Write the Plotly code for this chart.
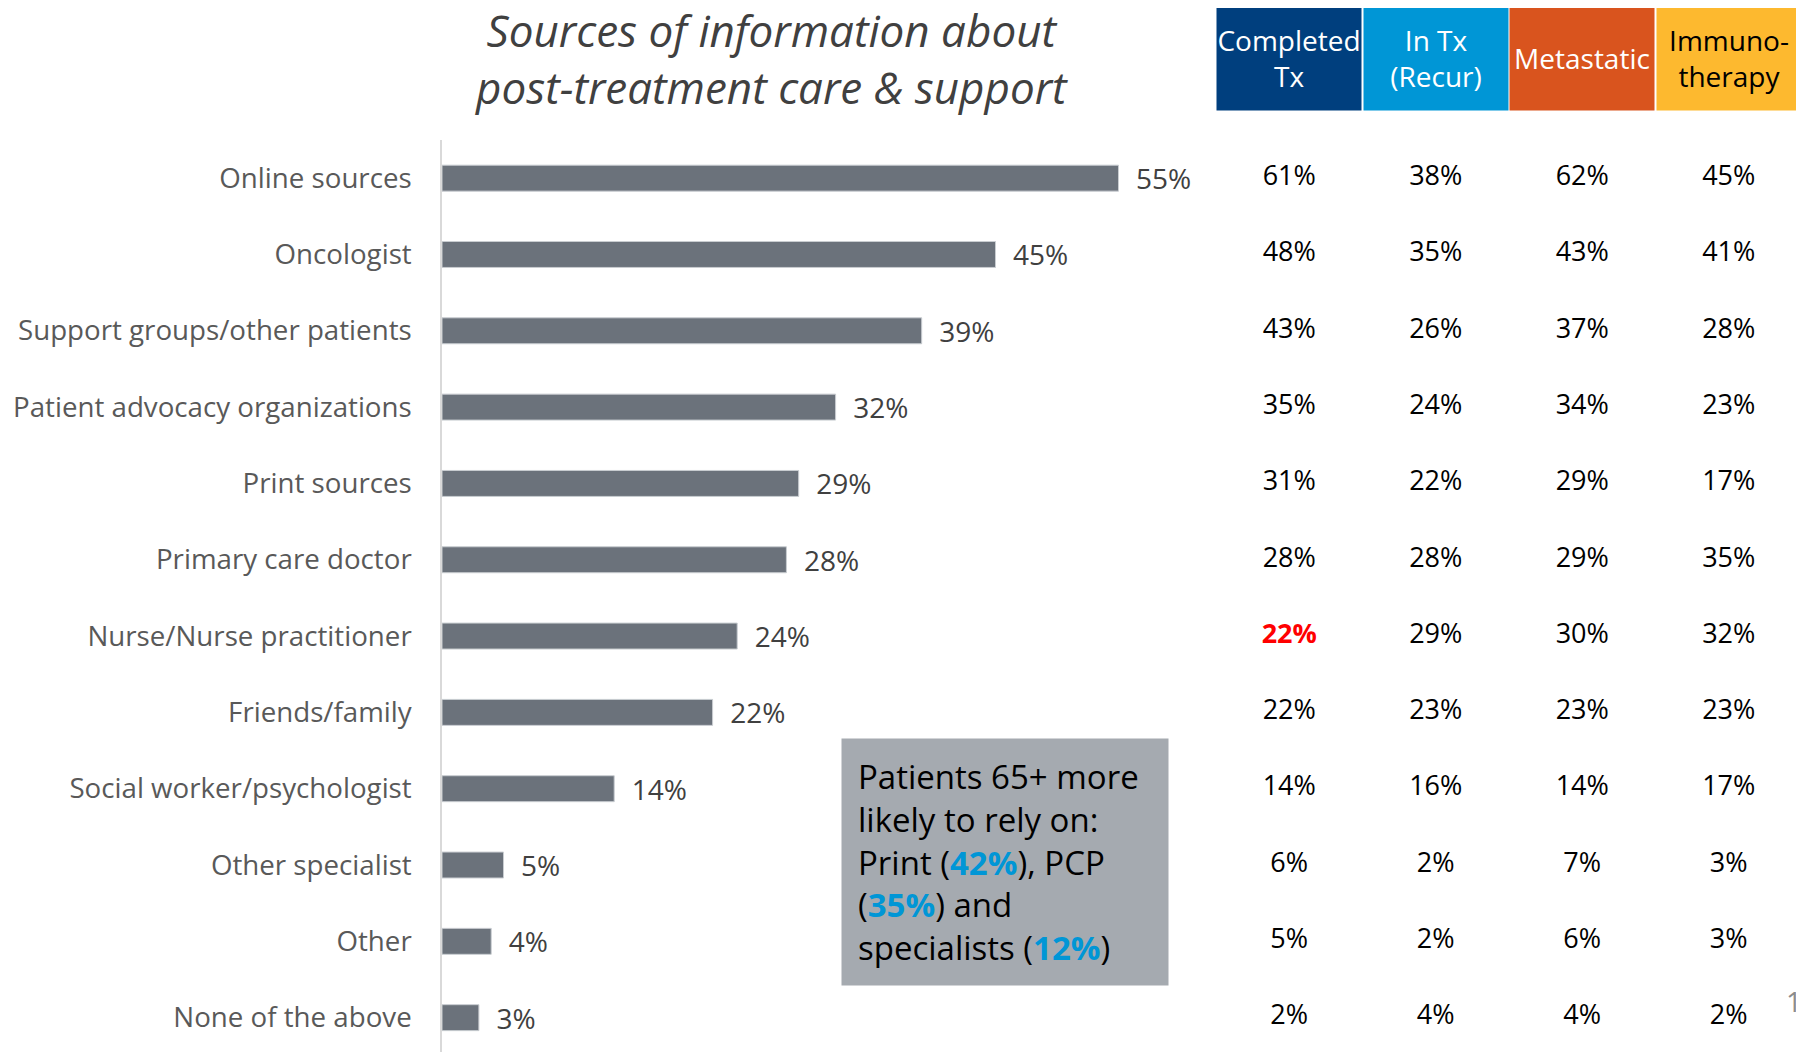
import plotly.graph_objects as go

# ---------------- data ----------------
categories = [
    "Online sources", "Oncologist", "Support groups/other patients",
    "Patient advocacy organizations", "Print sources", "Primary care doctor",
    "Nurse/Nurse practitioner", "Friends/family", "Social worker/psychologist",
    "Other specialist", "Other", "None of the above",
]
overall = [55, 45, 39, 32, 29, 28, 24, 22, 14, 5, 4, 3]

columns = ["Completed Tx", "In Tx (Recur)", "Metastatic", "Immunotherapy"]
column_headers = ["Completed<br>Tx", "In Tx<br>(Recur)", "Metastatic", "Immuno-<br>therapy"]
completed_tx = [61, 48, 43, 35, 31, 28, 22, 22, 14, 6, 5, 2]
in_tx_recur = [38, 35, 26, 24, 22, 28, 29, 23, 16, 2, 2, 4]
metastatic = [62, 43, 37, 34, 29, 29, 30, 23, 14, 7, 6, 4]
immunotherapy = [45, 41, 28, 23, 17, 35, 32, 23, 17, 3, 3, 2]
table_values = [completed_tx, in_tx_recur, metastatic, immunotherapy]
highlight_cell = ("Completed Tx", "Nurse/Nurse practitioner")

title_text = "<i>Sources of information about<br>post-treatment care &amp; support</i>"
callout_text = ("Patients 65+ more<br>likely to rely on:<br>"
                "Print (<b><span style='color:#0096D6'>42%</span></b>), PCP<br>"
                "(<b><span style='color:#0096D6'>35%</span></b>) and<br>"
                "specialists (<b><span style='color:#0096D6'>12%</span></b>)")

# ---------------- styles ----------------
FONT = "Open Sans"
bar_color = "#6B727B"
header_bg = ["#003F7E", "#0096D6", "#D9541E", "#FDB92F"]
header_fg = ["white", "white", "white", "black"]

OFF = 8  # page body margin
W, H = 1804 - OFF, 1052 - OFF
L, T = 442 - OFF, 140 - OFF
pw = W - L
ph = H - T


def px_x(x):
    return (x - OFF - L) / pw


def px_y(y):
    return (H - (y - OFF)) / ph


fig = go.Figure()

fig.add_trace(go.Bar(
    x=overall, y=categories, orientation="h",
    marker=dict(color=bar_color, line=dict(color="#C9CDD1", width=1)),
    width=0.34,
    text=[f"\u00a0\u00a0{v}%" for v in overall],
    textposition="outside",
    constraintext="none",
    textfont=dict(family=FONT, size=28, color="#404040"),
    cliponaxis=False,
    hoverinfo="skip",
))

for col, vals in zip(columns, table_values):
    texts, colors = [], []
    for cat, v in zip(categories, vals):
        if (col, cat) == highlight_cell:
            texts.append(f"<b>{v}%</b>")
            colors.append("#FF0000")
        else:
            texts.append(f"{v}%")
            colors.append("black")
    fig.add_trace(go.Scatter(
        x=[col] * len(categories), y=categories, mode="text",
        text=texts, textposition="middle center",
        textfont=dict(family=FONT, size=27, color=colors),
        xaxis="x2", yaxis="y", cliponaxis=False, hoverinfo="skip",
        showlegend=False,
    ))

fig.update_layout(
    width=W, height=H,
    margin=dict(l=L, r=0, t=T, b=0, autoexpand=False),
    paper_bgcolor="white", plot_bgcolor="white",
    showlegend=False,
    font=dict(family=FONT),
    xaxis=dict(domain=[0, px_x(1200)], range=[0, 758 / 12.3],
               visible=False, fixedrange=True, automargin=False),
    xaxis2=dict(domain=[px_x(1216), px_x(1802)], type="category",
                categoryorder="array", categoryarray=columns,
                range=[-0.5, 3.5], anchor="y", visible=False, automargin=False),
    yaxis=dict(type="category", categoryorder="array", categoryarray=categories,
               range=[11.45, -0.5], showline=True, linecolor="#D9D9D9",
               linewidth=1.5, showgrid=False, zeroline=False, ticks="",
               ticklabelstandoff=23, automargin=False,
               tickfont=dict(family=FONT, size=27.7, color="#595959")),
)

# title
fig.add_annotation(xref="paper", yref="paper", x=px_x(771), y=px_y(59),
                   text=title_text, showarrow=False,
                   xanchor="center", yanchor="middle",
                   font=dict(family=FONT, size=44, color="#404040"))

# table headers
for col, lab, bg, fg in zip(columns, column_headers, header_bg, header_fg):
    fig.add_annotation(xref="x2", yref="paper", x=col, y=px_y(58),
                       text=lab, showarrow=False, xanchor="center", yanchor="middle",
                       width=144, height=104, borderpad=0, bgcolor=bg,
                       font=dict(family=FONT, size=28, color=fg))

# callout box
fig.add_annotation(xref="paper", yref="paper", x=px_x(841), y=px_y(862),
                   xanchor="left", yanchor="middle", text=callout_text,
                   showarrow=False, align="left", valign="middle",
                   width=294, height=214, borderpad=16, bgcolor="#A5AAB0",
                   font=dict(family=FONT, size=33, color="black"))

# page number
fig.add_annotation(xref="paper", yref="paper", x=1.0, y=px_y(1001),
                   xanchor="right", yanchor="middle", text="1", showarrow=False,
                   font=dict(family=FONT, size=28, color="#8C8C8C"))

fig.write_html("out.html")
